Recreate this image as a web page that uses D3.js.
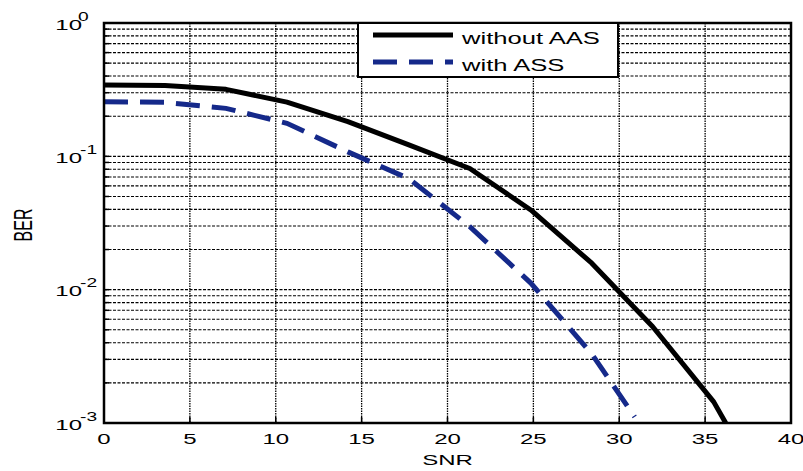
<!DOCTYPE html>
<html>
<head>
<meta charset="utf-8">
<script src="https://cdn.jsdelivr.net/npm/d3@7"></script>
<style>
  body { margin: 0; background: #fff; }
  text { font-family: "Liberation Sans", Arial, sans-serif; fill: #000; }
</style>
</head>
<body>
<div id="chart"></div>
<script>
// data
var snrWithout = [0, 3.55, 7.1, 10.65, 14.2, 17.75, 21.3, 24.85, 28.4, 31.95, 35.5, 36.2];
var berWithout = [0.343, 0.34, 0.318, 0.255, 0.182, 0.122, 0.081, 0.0396, 0.0158, 0.00527, 0.00144, 0.001];
var snrWith = [0, 3.55, 7.1, 10.65, 14.2, 17.75, 21.3, 24.85, 28.4, 30.9];
var berWith = [0.257, 0.254, 0.229, 0.177, 0.108, 0.068, 0.0297, 0.0112, 0.0033, 0.00111];
var xTicks = [0, 5, 10, 15, 20, 25, 30, 35, 40];
var yDecades = [0, -1, -2, -3];
var legendLabels = ["without AAS", "with ASS"];

var W = 803, H = 471;
var pLeft = 104, pRight = 791, pTop = 23, pBottom = 423;
var sx = 1.6; // the picture's text is stretched sideways

var svg = d3.select("#chart").append("svg")
	.attr("width", W)
	.attr("height", H);

var x = d3.scaleLinear().domain([0, 40]).range([pLeft, pRight]);
var y = d3.scaleLog().domain([1e-3, 1]).range([pBottom, pTop]);

// minor + major log grid values
var yGrid = [];
for (var e = -3; e < 0; e++) {
	for (var m = 1; m < 10; m++) yGrid.push(m * Math.pow(10, e));
}

var grid = svg.append("g").attr("class", "grid");
grid.selectAll("line.h")
	.data(yGrid)
	.enter().append("line")
	.attr("class", "h")
	.attr("x1", pLeft).attr("x2", pRight)
	.attr("y1", function (d) { return y(d); })
	.attr("y2", function (d) { return y(d); })
	.style("stroke", "#000")
	.style("stroke-width", 1.1)
	.style("stroke-dasharray", "3,1.5");
grid.selectAll("line.v")
	.data(xTicks.slice(1, -1))
	.enter().append("line")
	.attr("class", "v")
	.attr("y1", pTop).attr("y2", pBottom)
	.attr("x1", function (d) { return x(d); })
	.attr("x2", function (d) { return x(d); })
	.style("stroke", "#000")
	.style("stroke-width", 1.3)
	.style("stroke-dasharray", "1.5,1");

// ticks inside the box
var ticks = svg.append("g");
ticks.selectAll("line.xb")
	.data(xTicks)
	.enter().append("line")
	.attr("x1", function (d) { return x(d); })
	.attr("x2", function (d) { return x(d); })
	.attr("y1", pBottom).attr("y2", pBottom - 6)
	.style("stroke", "#000").style("stroke-width", 1.5);
ticks.selectAll("line.yl")
	.data(yGrid)
	.enter().append("line")
	.attr("x1", pLeft).attr("x2", pLeft + 5)
	.attr("y1", function (d) { return y(d); })
	.attr("y2", function (d) { return y(d); })
	.style("stroke", "#000").style("stroke-width", 1.5);

// curves
svg.append("clipPath").attr("id", "clip")
	.append("rect")
	.attr("x", pLeft).attr("y", pTop)
	.attr("width", pRight - pLeft).attr("height", pBottom - pTop);

var line = d3.line()
	.x(function (d) { return x(d[0]); })
	.y(function (d) { return y(d[1]); });

svg.append("path")
	.datum(d3.zip(snrWithout, berWithout))
	.attr("d", line)
	.attr("clip-path", "url(#clip)")
	.style("fill", "none")
	.style("stroke", "#000")
	.style("stroke-width", 5)
	.style("stroke-linejoin", "round");

svg.append("path")
	.datum(d3.zip(snrWith, berWith))
	.attr("d", line)
	.attr("clip-path", "url(#clip)")
	.style("fill", "none")
	.style("stroke", "#15298a")
	.style("stroke-width", 5)
	.style("stroke-dasharray", "24,12");

// box
svg.append("rect")
	.attr("x", pLeft).attr("y", pTop)
	.attr("width", pRight - pLeft).attr("height", pBottom - pTop)
	.style("fill", "none")
	.style("stroke", "#000")
	.style("stroke-width", 2.5);

function stretchedText(px, py, str, size, anchor) {
	return svg.append("g")
		.attr("transform", "translate(" + px + "," + py + ") scale(" + sx + ",1)")
		.append("text")
		.attr("text-anchor", anchor)
		.style("font-size", size + "px")
		.text(str);
}

// x tick labels
xTicks.forEach(function (d) {
	stretchedText(x(d), pBottom + 21, d, 15, "middle");
});

// y tick labels 10^k
yDecades.forEach(function (k) {
	var ty = y(Math.pow(10, k));
	stretchedText(82, ty + 6.5, "10", 15, "end");
	stretchedText(k == 0 ? 78 : 80, ty - 2.5, k == 0 ? "0" : "-" + (-k), 12, "start");
});

// axis titles
stretchedText((pLeft + pRight) / 2, 465, "SNR", 15, "middle");
svg.append("g")
	.attr("transform", "translate(32,225) rotate(-90) scale(1," + sx + ")")
	.append("text")
	.attr("text-anchor", "middle")
	.style("font-size", "16px")
	.text("BER");

// legend
var lg = svg.append("g");
lg.append("rect")
	.attr("x", 358).attr("y", pTop)
	.attr("width", 260).attr("height", 54)
	.style("fill", "#fff")
	.style("stroke", "#000")
	.style("stroke-width", 2);
var legendStyles = [
	{ color: "#000", dash: null, ly: 35 },
	{ color: "#15298a", dash: "24,12", ly: 62 }
];
legendLabels.forEach(function (lab, i) {
	var st = legendStyles[i];
	lg.append("line")
		.attr("x1", 373).attr("x2", 453)
		.attr("y1", st.ly).attr("y2", st.ly)
		.style("stroke", st.color)
		.style("stroke-width", 5)
		.style("stroke-dasharray", st.dash);
	stretchedText(462, st.ly + 9, lab, 16, "start");
});
</script>
</body>
</html>
